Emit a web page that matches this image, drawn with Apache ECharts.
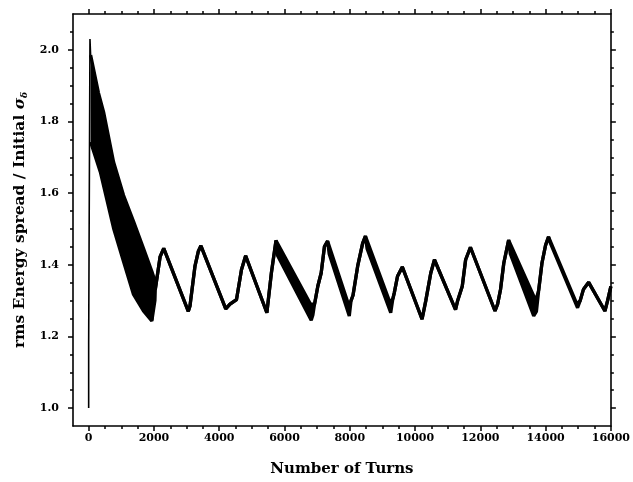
<!DOCTYPE html>
<html><head><meta charset="utf-8">
<script src="https://cdn.jsdelivr.net/npm/echarts@6/dist/echarts.min.js"></script>
<style>html,body{margin:0;padding:0;background:#fff}#c{width:633px;height:482px}</style>
</head><body><div id="c"></div>
<script>
// Axis ticks / labels
const xMajorTicks = [0, 2000, 4000, 6000, 8000, 10000, 12000, 14000, 16000];
const xMinorTicks = [500, 1000, 1500, 2500, 3000, 3500, 4500, 5000, 5500, 6500, 7000, 7500,
  8500, 9000, 9500, 10500, 11000, 11500, 12500, 13000, 13500, 14500, 15000, 15500];
const yMajorTicks = [1.0, 1.2, 1.4, 1.6, 1.8, 2.0];
const yMinorTicks = [1.05, 1.1, 1.15, 1.25, 1.3, 1.35, 1.45, 1.5, 1.55, 1.65, 1.7, 1.75,
  1.85, 1.9, 1.95, 2.05];

// Initial jump of the rms energy spread (turns, ratio)
const initialSpike = [[0, 1.0], [0, 1.18], [40, 1.18], [40, 2.03], [60, 1.985]];

// Upper envelope of the (fast oscillating) rms energy spread
const upperEnvelope = [
  [60, 1.985], [300, 1.88], [458, 1.826], [763, 1.687], [1068, 1.594], [1374, 1.521],
  [1679, 1.446], [1935, 1.382], [1995, 1.365], [2040, 1.33],
  [2190, 1.423], [2300, 1.446], [3053, 1.270], [3104, 1.285], [3257, 1.396], [3358, 1.437],
  [3440, 1.453], [4200, 1.277], [4330, 1.29], [4530, 1.303], [4682, 1.386], [4810, 1.425],
  [5460, 1.266], [5598, 1.377], [5740, 1.468],
  [6800, 1.29], [6920, 1.29],
  [7021, 1.34], [7124, 1.377], [7225, 1.451], [7320, 1.466],
  [7960, 1.29], [8040, 1.30],
  [8100, 1.315], [8242, 1.396], [8394, 1.46], [8480, 1.480],
  [9230, 1.295], [9320, 1.305],
  [9362, 1.321], [9463, 1.368], [9610, 1.394], [10215, 1.248], [10330, 1.30], [10482, 1.377],
  [10595, 1.414], [11240, 1.275], [11300, 1.298], [11447, 1.34], [11550, 1.414], [11697, 1.449],
  [12450, 1.271], [12530, 1.29], [12619, 1.331], [12720, 1.405], [12868, 1.469],
  [13700, 1.30],
  [13790, 1.33], [13889, 1.405], [14000, 1.455], [14090, 1.478],
  [14960, 1.29],
  [15060, 1.30], [15162, 1.332], [15320, 1.351], [15818, 1.271], [15900, 1.30], [16000, 1.34]
];

// Lower envelope
const lowerEnvelope = [
  [60, 1.743], [357, 1.659], [763, 1.502], [1068, 1.409], [1374, 1.317], [1679, 1.271],
  [1935, 1.243], [1985, 1.245], [2030, 1.30], [2040, 1.33],
  [2190, 1.423], [2300, 1.446], [3053, 1.270], [3104, 1.285], [3257, 1.396], [3358, 1.437],
  [3440, 1.453], [4200, 1.277], [4330, 1.29], [4530, 1.303], [4682, 1.386], [4810, 1.425],
  [5460, 1.266], [5598, 1.377], [5740, 1.468],
  [5790, 1.425], [6819, 1.245], [6870, 1.26], [6920, 1.29],
  [7021, 1.34], [7124, 1.377], [7225, 1.451], [7320, 1.466],
  [7370, 1.43], [7985, 1.257], [8040, 1.30],
  [8100, 1.315], [8242, 1.396], [8394, 1.46], [8480, 1.480],
  [8530, 1.445], [9255, 1.266], [9320, 1.305],
  [9362, 1.321], [9463, 1.368], [9610, 1.394], [10215, 1.248], [10330, 1.30], [10482, 1.377],
  [10595, 1.414], [11240, 1.275], [11300, 1.298], [11447, 1.34], [11550, 1.414], [11697, 1.449],
  [12450, 1.271], [12530, 1.29], [12619, 1.331], [12720, 1.405], [12868, 1.469],
  [12920, 1.43], [13636, 1.257], [13720, 1.27],
  [13790, 1.33], [13889, 1.405], [14000, 1.455], [14090, 1.478],
  [14140, 1.462], [14980, 1.280],
  [15060, 1.30], [15162, 1.332], [15320, 1.351], [15818, 1.271], [15900, 1.30], [16000, 1.34]
];

const FONT = 'DejaVu Serif';
const X_MIN = -480, X_MAX = 16000, Y_MIN = 0.95, Y_MAX = 2.1;

function xAx(pos, ticks, len, showLine, showLabel, extra) {
  return Object.assign({
    type: 'value', gridIndex: 0, position: pos, min: X_MIN, max: X_MAX,
    axisLine: { show: showLine, onZero: false, lineStyle: { color: '#000', width: 1.6 } },
    axisTick: { show: true, customValues: ticks, length: len, lineStyle: { color: '#000', width: 1.5 } },
    axisLabel: showLabel ? {
      show: true, customValues: ticks, margin: 7, color: '#000',
      fontFamily: FONT, fontWeight: 'bold', fontSize: 11,
      formatter: v => String(Math.round(v))
    } : { show: false },
    splitLine: { show: false }
  }, extra || {});
}
function yAx(pos, ticks, len, showLine, showLabel, extra) {
  return Object.assign({
    type: 'value', gridIndex: 0, position: pos, min: Y_MIN, max: Y_MAX,
    axisLine: { show: showLine, onZero: false, lineStyle: { color: '#000', width: 1.6 } },
    axisTick: { show: true, customValues: ticks, length: len, lineStyle: { color: '#000', width: 1.5 } },
    axisLabel: showLabel ? {
      show: true, customValues: ticks, margin: 14, color: '#000',
      fontFamily: FONT, fontWeight: 'bold', fontSize: 11,
      formatter: v => v.toFixed(1)
    } : { show: false },
    splitLine: { show: false }
  }, extra || {});
}

const chart = echarts.init(document.getElementById('c'), null, { renderer: 'canvas' });
chart.setOption({
  animation: false,
  backgroundColor: '#fff',
  grid: { left: 73, right: 21, top: 14, bottom: 52, containLabel: false },
  xAxis: [
    xAx('bottom', xMajorTicks, 5, true, true, {
      name: 'Number of Turns', nameLocation: 'middle', nameGap: 36,
      nameTextStyle: { fontFamily: FONT, fontWeight: 'bold', fontSize: 15, color: '#000' }
    }),
    xAx('bottom', xMinorTicks, 3, false, false),
    xAx('top', xMajorTicks, 5, true, false),
    xAx('top', xMinorTicks, 3, false, false)
  ],
  yAxis: [
    yAx('left', yMajorTicks, 5, true, true, {
      name: 'rms Energy spread / Initial {s|σ}{sub|δ}', nameLocation: 'middle', nameGap: 44,
      nameRotate: 90,
      nameTextStyle: {
        fontFamily: FONT, fontWeight: 'bold', fontSize: 15.5, color: '#000',
        rich: {
          s: { fontFamily: FONT, fontWeight: 'bold', fontStyle: 'italic', fontSize: 15.5, color: '#000' },
          sub: { fontFamily: FONT, fontWeight: 'bold', fontStyle: 'italic', fontSize: 9, color: '#000',
                 verticalAlign: 'bottom', padding: [8, 0, 0, 0] }
        }
      }
    }),
    yAx('left', yMinorTicks, 3, false, false),
    yAx('right', yMajorTicks, 5, true, false),
    yAx('right', yMinorTicks, 3, false, false)
  ],
  series: [
    {
      type: 'custom', xAxisIndex: 0, yAxisIndex: 0, silent: true, clip: true, z: 2,
      data: [[0, 1]],
      renderItem: function (params, api) {
        const pts = upperEnvelope.map(p => api.coord(p))
          .concat(lowerEnvelope.slice().reverse().map(p => api.coord(p)));
        return { type: 'polygon', shape: { points: pts }, style: { fill: '#000', stroke: null } };
      }
    },
    {
      type: 'line', xAxisIndex: 0, yAxisIndex: 0, data: upperEnvelope, showSymbol: false,
      symbol: 'none', clip: true, z: 3, lineStyle: { color: '#000', width: 3.3 }
    },
    {
      type: 'line', xAxisIndex: 0, yAxisIndex: 0, data: lowerEnvelope, showSymbol: false,
      symbol: 'none', clip: true, z: 3, lineStyle: { color: '#000', width: 3.3 }
    },
    {
      type: 'line', xAxisIndex: 0, yAxisIndex: 0, data: initialSpike, showSymbol: false,
      symbol: 'none', clip: true, z: 3, lineStyle: { color: '#000', width: 1.6 }
    }
  ]
});
</script>
</body></html>
